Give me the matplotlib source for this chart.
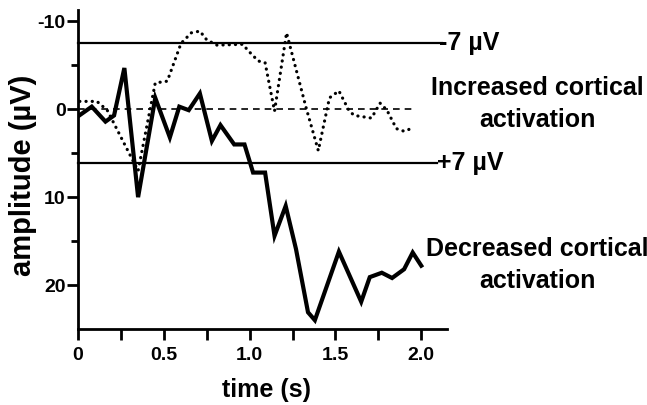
import matplotlib
matplotlib.use("Agg")
import matplotlib.pyplot as plt
from matplotlib.ticker import FixedLocator

# decreased cortical activation (thick solid trace)
t_dec = [0.0, 0.08, 0.16, 0.21, 0.27, 0.35, 0.45, 0.535, 0.59, 0.645, 0.71, 0.78,
         0.83, 0.91, 0.97, 1.02, 1.09, 1.145, 1.21, 1.27, 1.34, 1.38, 1.52, 1.65,
         1.70, 1.77, 1.83, 1.90, 1.95, 2.0]
amp_dec = [0.8, -0.3, 1.4, 0.7, -4.7, 10.0, -1.3, 3.2, -0.3, 0.1, -1.8, 3.6,
           1.8, 4.0, 4.0, 7.2, 7.2, 14.4, 11.0, 15.9, 23.1, 24.0, 16.2, 21.9,
           19.1, 18.6, 19.2, 18.2, 16.3, 17.8]

# increased cortical activation (dotted trace)
t_inc = [0.01, 0.11, 0.17, 0.35, 0.45, 0.52, 0.60, 0.66, 0.71, 0.75, 0.81, 0.96,
         0.99, 1.05, 1.09, 1.145, 1.215, 1.33, 1.40, 1.465, 1.52, 1.58, 1.61,
         1.71, 1.76, 1.80, 1.855, 1.90, 1.94]
amp_inc = [-0.9, -0.9, 0.1, 7.0, -3.0, -3.2, -7.5, -8.7, -8.9, -7.9, -7.3, -7.4,
           -6.7, -5.5, -5.3, 0.2, -8.7, -0.1, 4.7, -1.3, -2.1, 0.2, 0.7,
           1.0, -0.7, 0.1, 2.2, 2.5, 2.2]

upper_thr = -7.6
lower_thr = 6.1

plt.rcParams['font.family'] = ['Liberation Sans', 'DejaVu Sans']
plt.rcParams['font.weight'] = 'bold'
plt.rcParams['axes.unicode_minus'] = False

fig = plt.figure(figsize=(6.47, 4.05), dpi=100)
ax = fig.add_axes([0.1206, 0.1877, 0.5703, 0.7876])

ax.plot([0, 2.12], [upper_thr, upper_thr], color='black', lw=1.6, clip_on=False)
ax.plot([0, 2.09], [lower_thr, lower_thr], color='black', lw=1.6, clip_on=False)
ax.plot([0, 1.96], [0, 0], color='black', lw=1.2, ls=(0, (4, 3)))
ax.plot(t_inc, amp_inc, color='black', lw=2.3, ls=(0, (0.05, 1.9)),
        dash_capstyle='round')
ax.plot(t_dec, amp_dec, color='black', lw=3.0, solid_joinstyle='miter')

ax.set_xlim(0, 2.15)
ax.set_ylim(25, -11.3)

for s in ['top', 'right']:
    ax.spines[s].set_visible(False)
for s in ['left', 'bottom']:
    ax.spines[s].set_linewidth(2.0)

ax.xaxis.set_major_locator(FixedLocator([0, 0.5, 1.0, 1.5, 2.0]))
ax.xaxis.set_minor_locator(FixedLocator([0.25, 0.75, 1.25, 1.75]))
ax.set_xticklabels(['0', '0.5', '1.0', '1.5', '2.0'])
ax.yaxis.set_major_locator(FixedLocator([-10, 0, 10, 20]))
ax.yaxis.set_minor_locator(FixedLocator([-5, 5, 15]))
ax.tick_params(axis='x', which='both', length=8, width=2.0, direction='out',
               labelsize=14, pad=5)
ax.tick_params(axis='y', which='major', length=8, width=2.0, labelsize=14, pad=1)
ax.tick_params(axis='y', which='minor', length=5, width=2.0)

ax.set_xlabel('time (s)', fontsize=18, fontweight='bold')
ax.xaxis.set_label_coords(0.512, -0.155)
ax.set_ylabel('amplitude (µV)', fontsize=21, fontweight='bold')
ax.yaxis.set_label_coords(-0.111, 0.483)

ax.text(2.105, upper_thr, '-7 µV', fontsize=18, fontweight='bold',
        ha='left', va='center', clip_on=False)
ax.text(2.09, lower_thr, '+7 µV', fontsize=18, fontweight='bold',
        ha='left', va='center', clip_on=False)
ax.text(2.674, -0.57, 'Increased cortical\nactivation', fontsize=18,
        fontweight='bold', ha='center', va='center', linespacing=1.4,
        clip_on=False)
ax.text(2.674, 17.7, 'Decreased cortical\nactivation', fontsize=18,
        fontweight='bold', ha='center', va='center', linespacing=1.4,
        clip_on=False)

fig.savefig('out.png', dpi=100)
